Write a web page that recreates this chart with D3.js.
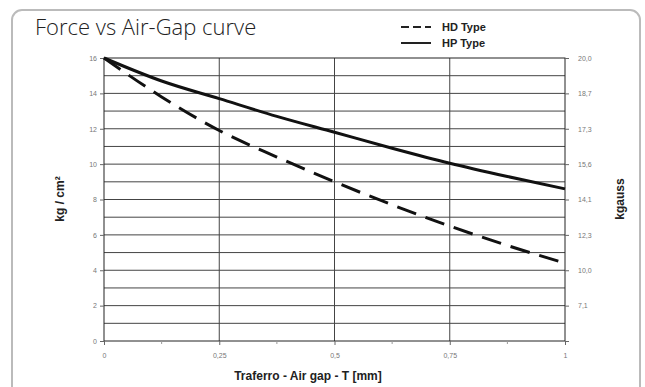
<!DOCTYPE html>
<html>
<head>
<meta charset="utf-8">
<style>
body { margin: 0; background: #fff; }
svg { display: block; }
</style>
</head>
<body>
<svg width="645" height="387"></svg>
<script src="https://d3js.org/d3.v7.min.js"></script>
<script>
// values
const gap = [0, 0.125, 0.25, 0.375, 0.5, 0.625, 0.75, 0.875, 1];
const hdForce = [16, 13.8, 11.9, 10.4, 9.0, 7.7, 6.5, 5.4, 4.4];
const hpForce = [16, 14.7, 13.7, 12.7, 11.8, 10.9, 10.05, 9.3, 8.6];
const xTicks = [0, 0.25, 0.5, 0.75, 1];
const xTickLabels = ["0", "0,25", "0,5", "0,75", "1"];
const yTicks = [0, 2, 4, 6, 8, 10, 12, 14, 16];
const gaussLabels = ["", "7,1", "10,0", "12,3", "14,1", "15,6", "17,3", "18,7", "20,0"];

const svg = d3.select("svg");
const m = { left: 104, right: 565, top: 58, bottom: 341 };

// outer frame
svg.append("rect")
    .attr("x", 12).attr("y", 10)
    .attr("width", 628).attr("height", 400)
    .attr("rx", 10)
    .attr("fill", "none")
    .attr("stroke", "#bbb")
    .attr("stroke-width", 2);

const x = d3.scaleLinear().domain([0, 1]).range([m.left, m.right]);
const y = d3.scaleLinear().domain([0, 16]).range([m.bottom, m.top]);

// horizontal grid every unit
svg.append("g").selectAll("line")
    .data(d3.range(1, 16))
    .join("line")
    .attr("x1", m.left).attr("x2", m.right)
    .attr("y1", d => y(d)).attr("y2", d => y(d))
    .attr("stroke", "#444").attr("stroke-width", 1);

// vertical grid
svg.append("g").selectAll("line")
    .data(xTicks.slice(1, -1))
    .join("line")
    .attr("x1", d => x(d)).attr("x2", d => x(d))
    .attr("y1", m.top).attr("y2", m.bottom)
    .attr("stroke", "#444").attr("stroke-width", 1);

svg.append("rect")
    .attr("x", m.left).attr("y", m.top)
    .attr("width", m.right - m.left).attr("height", m.bottom - m.top)
    .attr("fill", "none").attr("stroke", "#222").attr("stroke-width", 1);

const tickFont = "Liberation Sans, Arial, sans-serif";

// left axis
const yLeft = svg.append("g")
    .attr("transform", `translate(${m.left},0)`)
    .call(d3.axisLeft(y).tickValues(yTicks).tickSize(4).tickSizeOuter(0).tickFormat(d3.format("d")));
// right axis
const yRight = svg.append("g")
    .attr("transform", `translate(${m.right},0)`)
    .call(d3.axisRight(y).tickValues(yTicks).tickSize(4).tickSizeOuter(0).tickFormat((d, i) => gaussLabels[i]));
// bottom axis
const xAxis = svg.append("g")
    .attr("transform", `translate(0,${m.bottom})`)
    .call(d3.axisBottom(x).tickValues(xTicks).tickSize(4).tickSizeOuter(0).tickFormat((d, i) => xTickLabels[i]));
// minor bottom ticks
svg.append("g").selectAll("line")
    .data([0.125, 0.375, 0.625, 0.875])
    .join("line")
    .attr("x1", d => x(d)).attr("x2", d => x(d))
    .attr("y1", m.bottom).attr("y2", m.bottom + 3)
    .attr("stroke", "#999");

[yLeft, yRight, xAxis].forEach(g => {
    g.select(".domain").remove();
    g.selectAll(".tick line").attr("stroke", "#666");
    g.selectAll(".tick text")
        .attr("fill", "#777")
        .attr("font-size", 7)
        .attr("font-family", tickFont);
});
yRight.selectAll(".tick text").attr("x", 13);
xAxis.selectAll(".tick text").attr("y", 12);

// curves
const line = d3.line()
    .x((d, i) => x(gap[i]))
    .y(d => y(d))
    .curve(d3.curveMonotoneX);

svg.append("path")
    .datum(hdForce)
    .attr("d", line)
    .attr("fill", "none")
    .attr("stroke", "#111")
    .attr("stroke-width", 3)
    .attr("stroke-dasharray", "20,10");

svg.append("path")
    .datum(hpForce)
    .attr("d", line)
    .attr("fill", "none")
    .attr("stroke", "#111")
    .attr("stroke-width", 3);

// title
svg.append("text")
    .attr("x", 35).attr("y", 35)
    .attr("font-family", "Open Sans, sans-serif")
    .attr("font-size", 22)
    .attr("font-weight", 300)
    .attr("fill", "#222")
    .text("Force vs Air-Gap curve");

// legend
const legend = [
    { name: "HD Type", dash: "8,4", y: 27 },
    { name: "HP Type", dash: null, y: 43 }
];
legend.forEach(l => {
    svg.append("line")
        .attr("x1", 401).attr("x2", 431)
        .attr("y1", l.y).attr("y2", l.y)
        .attr("stroke", "#222").attr("stroke-width", 2)
        .attr("stroke-dasharray", l.dash);
    svg.append("text")
        .attr("x", 442).attr("y", l.y + 4)
        .attr("font-family", tickFont)
        .attr("font-weight", "bold")
        .attr("font-size", 11)
        .attr("fill", "#222")
        .text(l.name);
});

// axis titles
svg.append("text")
    .attr("transform", "translate(64,199) rotate(-90)")
    .attr("text-anchor", "middle")
    .attr("font-family", tickFont)
    .attr("font-weight", "bold")
    .attr("font-size", 12)
    .attr("fill", "#222")
    .text("kg / cm²");

svg.append("text")
    .attr("transform", "translate(624,199) rotate(-90)")
    .attr("text-anchor", "middle")
    .attr("font-family", tickFont)
    .attr("font-weight", "bold")
    .attr("font-size", 12)
    .attr("fill", "#222")
    .text("kgauss");

svg.append("text")
    .attr("x", 308).attr("y", 380)
    .attr("text-anchor", "middle")
    .attr("font-family", tickFont)
    .attr("font-weight", "bold")
    .attr("font-size", 12)
    .attr("fill", "#222")
    .text("Traferro - Air gap - T [mm]");
</script>
</body>
</html>
